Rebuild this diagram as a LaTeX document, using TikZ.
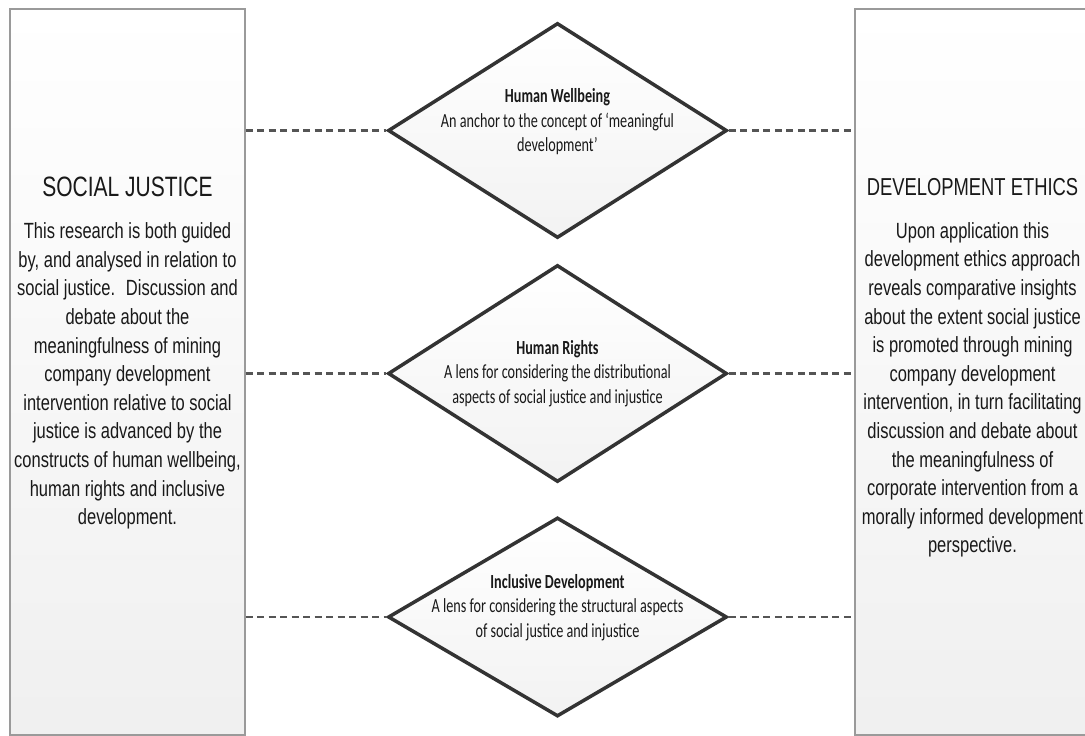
\documentclass[tikz,border=0pt]{standalone}
\usepackage{fontspec}
\usetikzlibrary{shapes.geometric}
\newfontfamily\boxfont[FakeStretch=0.75]{Liberation Sans}
\newfontfamily\gemfont[FakeStretch=0.71]{Carlito}
\definecolor{rim}{HTML}{9A9A9A}
\definecolor{gemline}{HTML}{333333}
\definecolor{dashline}{HTML}{555555}

\begin{document}
\begin{tikzpicture}[x=1pt,y=-1pt,
  side node/.style={draw=rim,line width=1.2pt,top color=white,bottom color=black!6,minimum width=235pt,minimum height=726pt,inner sep=0pt},
  gem node/.style={diamond,draw=gemline,line width=3.5pt,top color=white,bottom color=black!5,inner sep=0pt,minimum width=339pt},
  gem text/.style={font=\gemfont\fontsize{20}{24.5}\selectfont,align=center,text=black!90},
  title text/.style={font=\boxfont\fontsize{28}{32}\selectfont,text=black!90},
  body text/.style={font=\boxfont\fontsize{22}{28.6}\selectfont,align=center,text=black!90},
  link/.style={draw=dashline,line width=2.2pt,dash pattern=on 7pt off 4.5pt}]
\useasboundingbox[fill=white] (0,0) rectangle (1085,736);

  % side panels
  \node[side node] (sj) at (127.5,372) {};
  \node[side node] (de) at (972.5,372) {};

  \node[title text] (sjtitle) at (127.5,187) {SOCIAL JUSTICE};
  \node[title text,font=\boxfont\fontsize{24.5}{30}\selectfont] (detitle) at (972.5,187) {DEVELOPMENT ETHICS};

  \node[body text] (sjbody) at (127.5,376) {This research is both guided\\by, and analysed in relation to\\social justice.~ Discussion and\\debate about the\\meaningfulness of mining\\company development\\intervention relative to social\\justice is advanced by the\\constructs of human wellbeing,\\human rights and inclusive\\development.};
  \node[body text] (debody) at (972.5,390) {Upon application this\\development ethics approach\\reveals comparative insights\\about the extent social justice\\is promoted through mining\\company development\\intervention, in turn facilitating\\discussion and debate about\\the meaningfulness of\\corporate intervention from a\\morally informed development\\perspective.};

  % the three constructs
  \node[gem node,minimum height=215pt] (hw) at (557.5,130.5) {};
  \node[gem node,minimum height=217pt] (hr) at (557.5,373.5) {};
  \node[gem node,minimum height=199pt] (id) at (557.5,617) {};

  \node[gem text] (hwtext) at (557.5,122) {\textbf{Human Wellbeing}\\An anchor to the concept of ‘meaningful\\development’};
  \node[gem text] (hrtext) at (557.5,373.5) {\textbf{Human Rights}\\A lens for considering the distributional\\aspects of social justice and injustice};
  \node[gem text] (idtext) at (557.5,607.5) {\textbf{Inclusive Development}\\A lens for considering the structural aspects\\of social justice and injustice};

  % dashed links
  \foreach \g in {hw,hr,id}{
    \draw[link] (sj.east |- \g.west) -- (\g.west);
    \draw[link] (\g.east) -- (de.west |- \g.east);
  }
\end{tikzpicture}
\end{document}
